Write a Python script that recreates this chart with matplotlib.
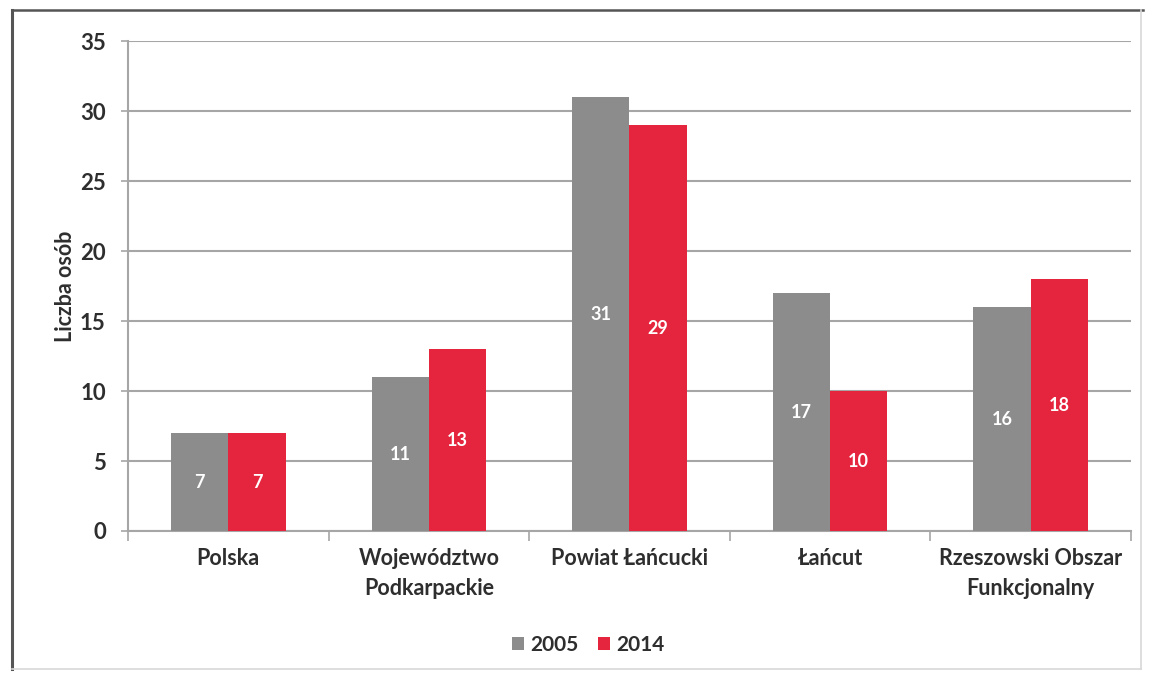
import matplotlib
matplotlib.use("Agg")
import matplotlib.pyplot as plt
from matplotlib.lines import Line2D
import numpy as np

categories = ["Polska", "Województwo\nPodkarpackie", "Powiat Łańcucki", "Łańcut",
              "Rzeszowski Obszar\nFunkcjonalny"]
values_2005 = [7, 11, 31, 17, 16]
values_2014 = [7, 13, 29, 10, 18]
series_names = ["2005", "2014"]
y_ticks = [0, 5, 10, 15, 20, 25, 30, 35]

GRAY = "#8c8c8c"
RED = "#e5253e"
TEXT = "#2e2e2e"
GRID = "#a6a6a6"

plt.rcParams["font.family"] = ["Lato", "DejaVu Sans"]
plt.rcParams["font.weight"] = "bold"

fig = plt.figure(figsize=(11.49, 6.76), dpi=100)
ax = fig.add_axes([0.1114, 0.2145, 0.8729, 0.7248])

x = np.arange(len(categories))
w = 0.286
b1 = ax.bar(x - w / 2, values_2005, w, color=GRAY, zorder=3, label=series_names[0])
b2 = ax.bar(x + w / 2, values_2014, w, color=RED, zorder=3, label=series_names[1])

for bars in (b1, b2):
    for rect in bars:
        h = rect.get_height()
        ax.text(rect.get_x() + rect.get_width() / 2, h / 2, f"{h:g}",
                ha="center", va="center", color="white", fontsize=13,
                fontweight="bold", zorder=4)

ax.set_xlim(-0.5, len(categories) - 0.5)
ax.set_ylim(0, 35)
ax.set_yticks(y_ticks)
ax.set_yticklabels([str(t) for t in y_ticks], fontsize=16, color=TEXT, fontweight="bold")
ax.yaxis.grid(True, color=GRID, linewidth=1.5, zorder=0)
ax.set_axisbelow(True)

ax.set_xticks(x)
ax.set_xticklabels(categories, fontsize=15.5, color=TEXT, fontweight="bold", linespacing=1.55)
ax.tick_params(axis="x", length=0, pad=12)
ax.tick_params(axis="y", length=5, color=GRID, width=1.2, pad=11)
ax.set_xticks(np.arange(len(categories) + 1) - 0.5, minor=True)
ax.tick_params(axis="x", which="minor", length=7, color=GRID, width=1.2)

for side in ("top", "right"):
    ax.spines[side].set_visible(False)
for side in ("left", "bottom"):
    ax.spines[side].set_color(GRID)
    ax.spines[side].set_linewidth(1.5)

ax.set_ylabel("Liczba osób", fontsize=15.5, color=TEXT, fontweight="bold", labelpad=3)

leg = fig.legend(handles=[b1, b2], loc="center", bbox_to_anchor=(0.512, 0.046),
                 ncol=2, frameon=False, fontsize=15, handlelength=0.6,
                 handleheight=0.6, handletextpad=0.3, columnspacing=0.9)
for t in leg.get_texts():
    t.set_color(TEXT)
    t.set_fontweight("bold")

# outer frame of the figure
fig.add_artist(Line2D([0.0105, 0.0105], [0.01, 0.985], color="#555555", lw=2.2,
                      transform=fig.transFigure))
fig.add_artist(Line2D([0.0105, 0.995], [0.985, 0.985], color="#555555", lw=1.8,
                      transform=fig.transFigure))
fig.add_artist(Line2D([0.993, 0.993], [0.01, 0.985], color="#d8d8d8", lw=1.2,
                      transform=fig.transFigure))
fig.add_artist(Line2D([0.0105, 0.993], [0.01, 0.01], color="#d8d8d8", lw=1.2,
                      transform=fig.transFigure))

fig.savefig("out.png", dpi=100)
